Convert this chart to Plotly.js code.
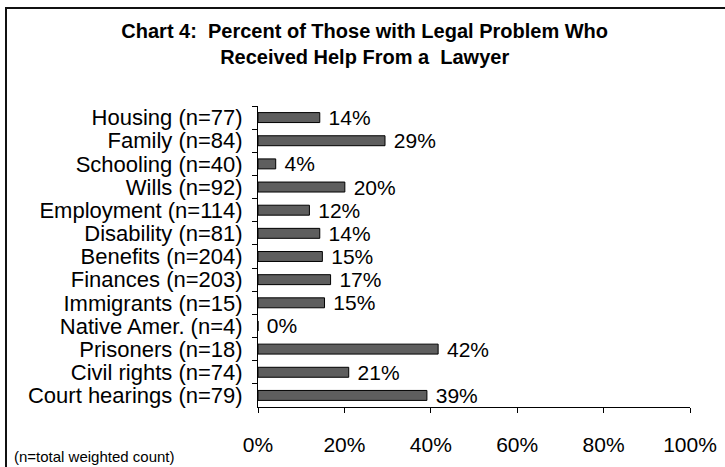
<!DOCTYPE html>
<html>
<head>
<meta charset="utf-8">
<script src="https://cdn.plot.ly/plotly-3.0.1.min.js"></script>
<style>
html,body{margin:0;padding:0;background:#fff;overflow:hidden;}
#wrap{position:relative;width:725px;height:467px;overflow:hidden;}
#chart{width:725px;height:467px;}
#frame{position:absolute;left:5px;top:7px;width:800px;height:600px;border:2px solid #111;pointer-events:none;}
</style>
</head>
<body>
<div id="wrap"><div id="chart"></div><div id="frame"></div></div>
<script>
const categories = ["Housing (n=77)","Family (n=84)","Schooling (n=40)","Wills (n=92)","Employment (n=114)","Disability (n=81)","Benefits (n=204)","Finances (n=203)","Immigrants (n=15)","Native Amer. (n=4)","Prisoners (n=18)","Civil rights (n=74)","Court hearings (n=79)"];
const percentHelped = [14.3, 29.4, 4.1, 20.1, 11.9, 14.3, 14.9, 16.8, 15.4, 0, 41.7, 21.0, 39.1];
const xTickValues = [0, 20, 40, 60, 80, 100];
const xTickLabels = ["0%", "20%", "40%", "60%", "80%", "100%"];
const titleText = "Chart 4:\u00a0 Percent of Those with Legal Problem Who<br>Received Help From a\u00a0 Lawyer";
const footnote = "(n=total weighted count)";

const FONT = "Arial, 'Liberation Sans', sans-serif";

const trace = {
  type: "bar",
  orientation: "h",
  y: categories,
  x: percentHelped,
  marker: {color: "#5e5e5e", line: {color: "#000", width: 1}},
  texttemplate: "\u00a0%{x:.0f}%",
  textposition: "outside",
  constraintext: "none",
  textfont: {family: FONT, size: 21, color: "#000"},
  cliponaxis: false,
  hoverinfo: "skip"
};

const layout = {
  width: 725, height: 467,
  margin: {l: 258, r: 35, t: 106, b: 60},
  paper_bgcolor: "#fff", plot_bgcolor: "#fff",
  showlegend: false,
  bargap: 0.57,
  font: {family: FONT, color: "#000"},
  title: {
    text: titleText,
    font: {family: FONT, size: 20, color: "#000", weight: "bold"},
    x: 0.503, xanchor: "center", xref: "container",
    y: 0.919, yanchor: "top", yref: "container"
  },
  xaxis: {
    range: [0, 100],
    tickmode: "array",
    tickvals: xTickValues,
    ticktext: xTickLabels,
    ticks: "outside", ticklen: 5, tickcolor: "#000",
    showline: true, linecolor: "#000", linewidth: 1,
    showgrid: false, zeroline: false,
    tickfont: {family: FONT, size: 21, color: "#000"},
    ticklabelstandoff: 14,
    fixedrange: true
  },
  yaxis: {
    type: "category",
    autorange: "reversed",
    tickmode: "linear", dtick: 1,
    ticks: "outside", ticklen: 5, tickcolor: "#000",
    tickson: "boundaries",
    showline: true, linecolor: "#000", linewidth: 1,
    showgrid: false, zeroline: false,
    tickfont: {family: FONT, size: 22, color: "#000"},
    ticklabelstandoff: 10,
    fixedrange: true
  },
  annotations: [{
    text: footnote,
    xref: "paper", yref: "paper",
    x: -0.569, y: -0.166,
    xanchor: "left", yanchor: "middle",
    showarrow: false,
    font: {family: FONT, size: 15, color: "#000"}
  }]
};

Plotly.newPlot("chart", [trace], layout, {displayModeBar: false, staticPlot: true});
</script>
</body>
</html>
